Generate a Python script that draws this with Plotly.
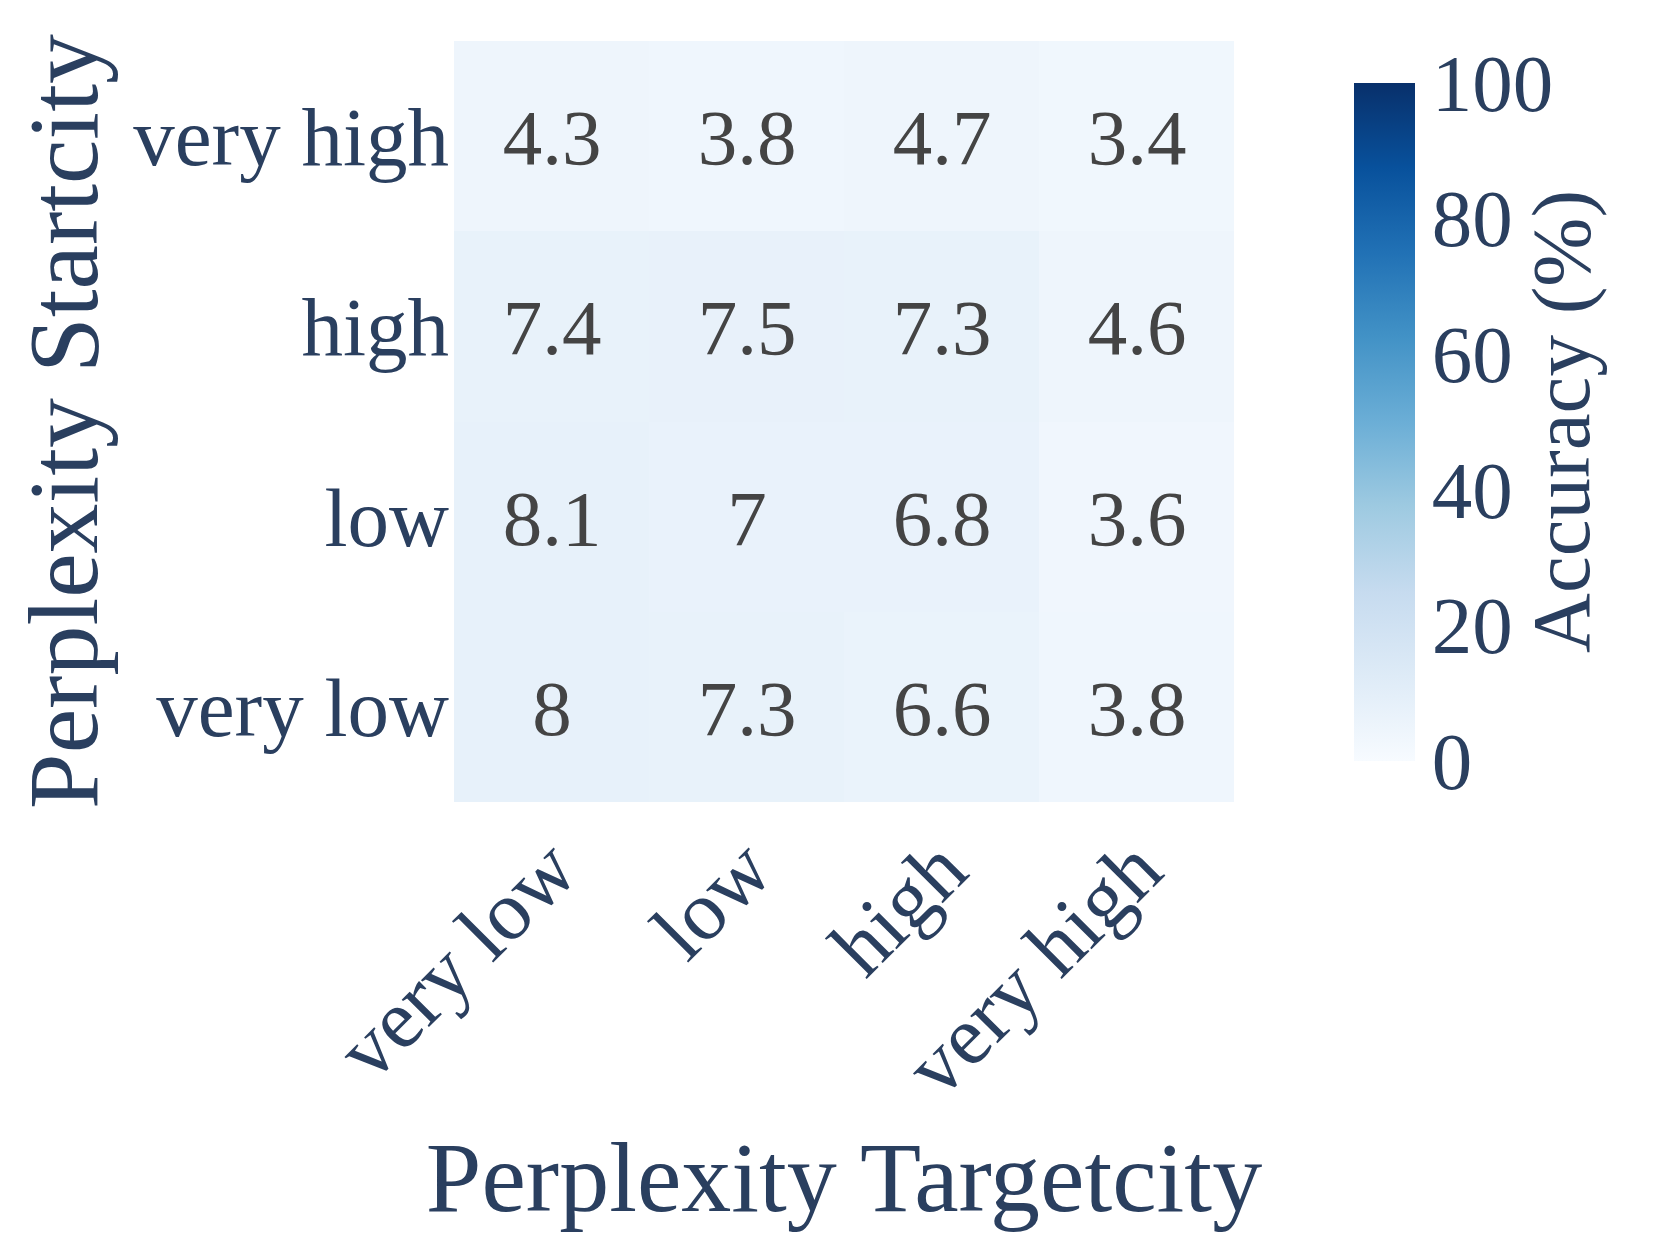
import plotly.graph_objects as go
import plotly.express as px

# categories (bottom -> top for rows, left -> right for columns)
target_levels = ["very low", "low", "high", "very high"]
start_levels = ["very low", "low", "high", "very high"]

# accuracy (%) per row of start_levels
acc_very_low = [8, 7.3, 6.6, 3.8]
acc_low = [8.1, 7, 6.8, 3.6]
acc_high = [7.4, 7.5, 7.3, 4.6]
acc_very_high = [4.3, 3.8, 4.7, 3.4]

cbar_ticks = [0, 20, 40, 60, 80, 100]

z = [acc_very_low, acc_low, acc_high, acc_very_high]

font_family = "Liberation Serif, Times New Roman, serif"
label_color = "#2a3f5f"

fig = go.Figure()

fig.add_trace(go.Heatmap(
    z=z,
    x=target_levels,
    y=start_levels,
    zmin=0,
    zmax=100,
    colorscale=px.colors.sequential.Blues,
    texttemplate="%{z}",
    textfont=dict(family=font_family, size=79, color="#444444"),
    xgap=0,
    ygap=0,
    colorbar=dict(
        title=dict(text="Accuracy (%)", side="right",
                   font=dict(family=font_family, size=83, color=label_color)),
        tickvals=cbar_ticks,
        tickfont=dict(family=font_family, size=81, color=label_color),
        thickness=61,
        len=0.917,
        x=1.141,
        xanchor="left",
        y=0.5,
        yanchor="middle",
        outlinewidth=0,
        ticks="",
    ),
))

fig.update_layout(
    width=1661,
    height=1245,
    margin=dict(l=446, r=435, t=33, b=451),
    paper_bgcolor="white",
    plot_bgcolor="white",
    font=dict(family=font_family, color=label_color),
    xaxis=dict(
        title=dict(text="Perplexity Targetcity", standoff=28,
                   font=dict(family=font_family, size=100, color=label_color)),
        tickangle=-45,
        tickfont=dict(family=font_family, size=84, color=label_color),
        showgrid=False,
        zeroline=False,
        automargin=False,
    ),
    yaxis=dict(
        title=dict(text="Perplexity Startcity", standoff=14,
                   font=dict(family=font_family, size=100, color=label_color)),
        tickfont=dict(family=font_family, size=83, color=label_color),
        ticklabelstandoff=4,
        showgrid=False,
        zeroline=False,
        automargin=False,
    ),
)

fig.write_html("out.html")
